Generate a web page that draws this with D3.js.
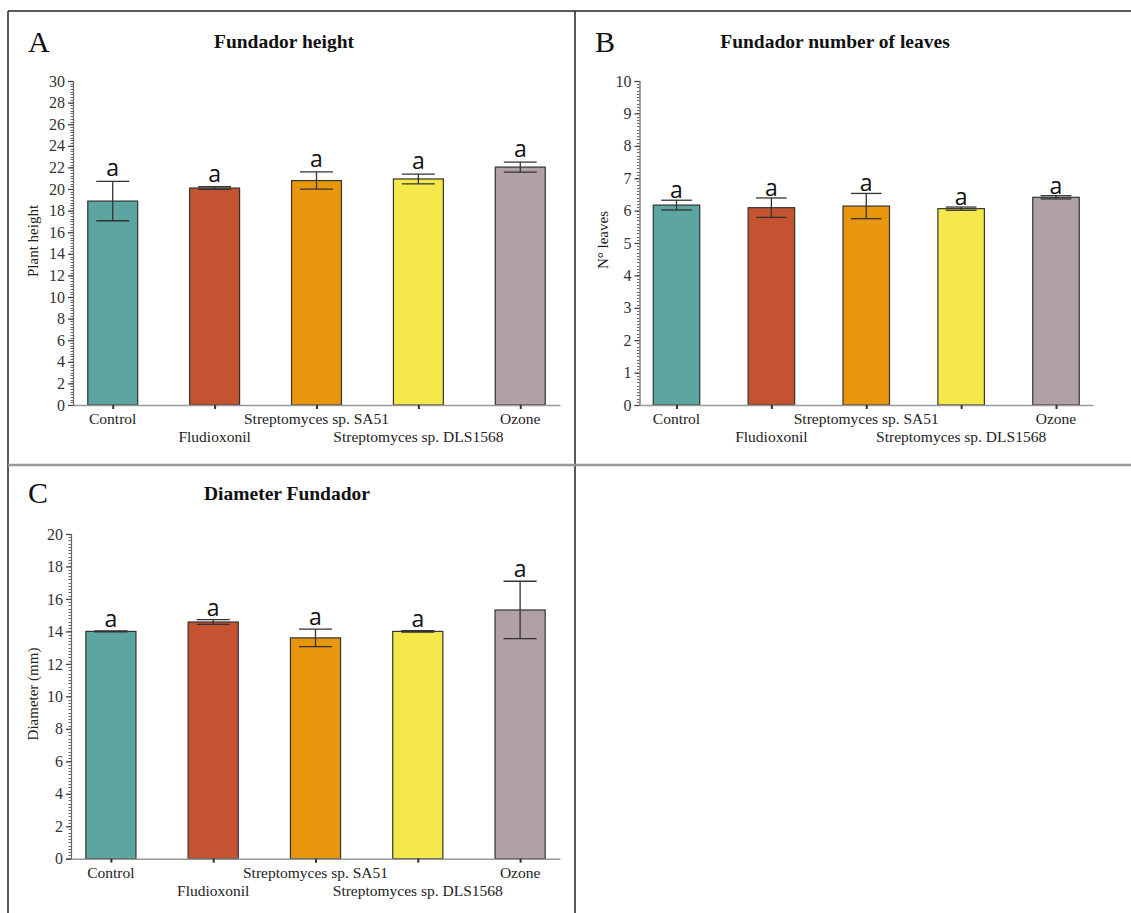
<!DOCTYPE html>
<html>
<head>
<meta charset="utf-8">
<script src="https://cdn.jsdelivr.net/npm/d3@7"></script>
<style>
  html, body { margin: 0; padding: 0; background: #fff; }
  svg { display: block; }
</style>
</head>
<body>
<svg id="fig" width="1131" height="913"></svg>
<script>
// Treatments (same for all three panels)
const categories = ["Control", "Fludioxonil", "Streptomyces sp. SA51", "Streptomyces sp. DLS1568", "Ozone"];
const barColors = ["#5ca5a0", "#c55331", "#e8960c", "#f5e84a", "#b0a1a6"];

// A: plant height
const heightMeans = [18.88, 20.09, 20.78, 20.93, 22.03];
const heightErr   = [1.82, 0.12, 0.80, 0.45, 0.46];
const heightLetters = ["a", "a", "a", "a", "a"];
const heightTicks = [0, 2, 4, 6, 8, 10, 12, 14, 16, 18, 20, 22, 24, 26, 28, 30];

// B: number of leaves
const leavesMeans = [6.17, 6.09, 6.14, 6.06, 6.41];
const leavesErr   = [0.15, 0.30, 0.39, 0.05, 0.05];
const leavesLetters = ["a", "a", "a", "a", "a"];
const leavesTicks = [0, 1, 2, 3, 4, 5, 6, 7, 8, 9, 10];

// C: stem diameter
const diameterMeans = [14.00, 14.58, 13.60, 14.00, 15.32];
const diameterErr   = [0.03, 0.15, 0.54, 0.05, 1.77];
const diameterLetters = ["a", "a", "a", "a", "a"];
const diameterTicks = [0, 2, 4, 6, 8, 10, 12, 14, 16, 18, 20];

const svg = d3.select("#fig");
const serif = "'Liberation Serif', 'Times New Roman', serif";

// Panel frame lines
const frame = svg.append("g");
frame.append("line").attr("x1", 8).attr("x2", 1131).attr("y1", 11).attr("y2", 11)
  .attr("stroke", "#222").attr("stroke-width", 1.5);
frame.append("line").attr("x1", 8).attr("x2", 8).attr("y1", 11).attr("y2", 913)
  .attr("stroke", "#222").attr("stroke-width", 1.5);
frame.append("line").attr("x1", 575).attr("x2", 575).attr("y1", 11).attr("y2", 913)
  .attr("stroke", "#222").attr("stroke-width", 1.5);
frame.append("line").attr("x1", 8).attr("x2", 1131).attr("y1", 465).attr("y2", 465)
  .attr("stroke", "#999").attr("stroke-width", 2.5);

function drawPanel(p) {
  const g = svg.append("g");
  const x = d3.scalePoint().domain(categories).range([p.x0, p.x1]).padding(0.39);
  const y = d3.scaleLinear().domain([0, p.max]).range([p.yBottom, p.yTop]);
  const bw = x.step() * 0.49;
  const capW = bw * 0.66;

  // panel letter + title
  g.append("text").attr("x", p.letterX).attr("y", p.letterY)
    .attr("font-family", serif).attr("font-size", 30).attr("fill", "#111").text(p.letter);
  g.append("text").attr("x", p.titleX).attr("y", p.titleY).attr("text-anchor", "middle")
    .attr("font-family", serif).attr("font-weight", "bold").attr("font-size", 19.5)
    .attr("fill", "#111").text(p.title);

  // minor ticks (dotted look along the y axis)
  const minor = d3.range(0, p.max + 1e-9, p.minorStep);
  g.append("g").selectAll("line").data(minor).join("line")
    .attr("x1", p.x0 - 2.5).attr("x2", p.x0)
    .attr("y1", d => Math.round(y(d)) + 0.5).attr("y2", d => Math.round(y(d)) + 0.5)
    .attr("stroke", "#666").attr("stroke-width", 1);

  // y axis
  const yAxis = d3.axisLeft(y).tickValues(p.ticks).tickSize(5).tickPadding(3).tickFormat(d3.format("d"));
  const ya = g.append("g").attr("transform", `translate(${p.x0},0)`).call(yAxis);
  ya.select(".domain").attr("stroke", "#666").attr("stroke-width", 1.2);
  ya.selectAll(".tick line").attr("stroke", "#444").attr("stroke-width", 1.3);
  ya.selectAll(".tick text").attr("font-family", serif).attr("font-size", 16).attr("fill", "#333");

  // y axis title
  g.append("text")
    .attr("transform", `translate(${p.yLabelX},${p.yLabelY}) rotate(-90)`)
    .attr("text-anchor", "middle").attr("dominant-baseline", "central")
    .attr("font-family", serif).attr("font-size", 15).attr("fill", "#222").text(p.yLabel);

  // bars
  g.append("g").selectAll("rect").data(p.means).join("rect")
    .attr("x", (d, i) => x(categories[i]) - bw / 2)
    .attr("y", d => y(d))
    .attr("width", bw)
    .attr("height", d => y(0) - y(d))
    .attr("fill", (d, i) => barColors[i])
    .attr("stroke", "#333").attr("stroke-width", 1.2);

  // x axis
  const xa = g.append("g").attr("transform", `translate(0,${p.yBottom})`)
    .call(d3.axisBottom(x).tickSize(4).tickSizeOuter(0).tickFormat(""));
  xa.select(".domain").attr("stroke", "#999").attr("stroke-width", 1.5);
  xa.selectAll(".tick line").attr("stroke", "#333").attr("stroke-width", 2);

  // staggered category labels
  g.append("g").selectAll("text").data(categories).join("text")
    .attr("x", d => x(d))
    .attr("y", (d, i) => p.yBottom + (i % 2 === 0 ? 19 : 37))
    .attr("text-anchor", "middle")
    .attr("font-family", serif).attr("font-size", 15.5).attr("fill", "#222")
    .text(d => d);

  // error bars
  const eb = g.append("g").attr("stroke", "#333").attr("stroke-width", 1.3);
  p.means.forEach((m, i) => {
    const cx = x(categories[i]);
    const hi = y(m + p.err[i]), lo = y(m - p.err[i]);
    eb.append("line").attr("x1", cx).attr("x2", cx).attr("y1", hi).attr("y2", lo);
    eb.append("line").attr("x1", cx - capW / 2).attr("x2", cx + capW / 2).attr("y1", hi).attr("y2", hi);
    eb.append("line").attr("x1", cx - capW / 2).attr("x2", cx + capW / 2).attr("y1", lo).attr("y2", lo);
  });

  // significance letters
  g.append("g").selectAll("text").data(p.letters).join("text")
    .attr("x", (d, i) => x(categories[i]))
    .attr("y", (d, i) => y(p.means[i] + p.err[i]) - p.letterGap)
    .attr("text-anchor", "middle")
    .attr("font-family", "'Open Sans', sans-serif").attr("font-size", 23).attr("fill", "#111")
    .text(d => d);
}

drawPanel({
  letter: "A", letterX: 28, letterY: 52,
  title: "Fundador height", titleX: 284, titleY: 48,
  x0: 73, x1: 560, yTop: 81, yBottom: 405, max: 30, minorStep: 0.25,
  ticks: heightTicks, yLabel: "Plant height", yLabelX: 33, yLabelY: 241,
  means: heightMeans, err: heightErr, letters: heightLetters, letterGap: 5
});

drawPanel({
  letter: "B", letterX: 595, letterY: 52,
  title: "Fundador number of leaves", titleX: 835, titleY: 48,
  x0: 639.5, x1: 1093, yTop: 81, yBottom: 405, max: 10, minorStep: 0.1,
  ticks: leavesTicks, yLabel: "N° leaves", yLabelX: 603, yLabelY: 240,
  means: leavesMeans, err: leavesErr, letters: leavesLetters, letterGap: 2
});

drawPanel({
  letter: "C", letterX: 28, letterY: 503,
  title: "Diameter Fundador", titleX: 287, titleY: 500,
  x0: 71, x1: 560, yTop: 534, yBottom: 858.7, max: 20, minorStep: 0.2,
  ticks: diameterTicks, yLabel: "Diameter (mm)", yLabelX: 33, yLabelY: 694,
  means: diameterMeans, err: diameterErr, letters: diameterLetters, letterGap: 4
});
</script>
</body>
</html>
